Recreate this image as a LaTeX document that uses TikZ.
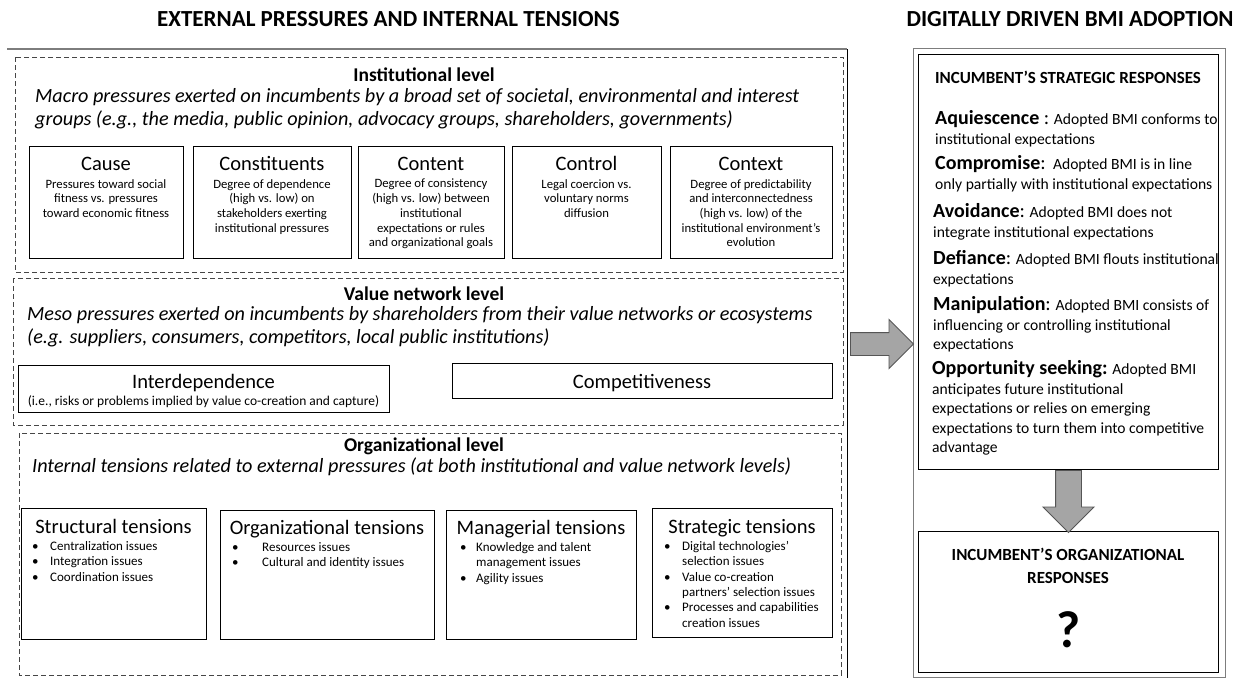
\documentclass[tikz,border=0pt]{standalone}
\usepackage{fontspec}
\setmainfont{Carlito}
\usetikzlibrary{arrows.meta,calc,positioning,shapes.arrows}

\definecolor{framegray}{RGB}{125,125,125}
\definecolor{dashgray}{RGB}{70,70,70}
\definecolor{arrowfill}{RGB}{165,165,165}
\definecolor{arrowedge}{RGB}{85,85,85}

\newcommand{\fsize}[2]{\fontsize{#1}{#2}\selectfont}
\newcommand{\bul}[2][18pt]{\makebox[#1][l]{\textbullet}#2}
\newcommand{\cont}[2][18pt]{\hspace*{#1}#2}
\newcommand{\hw}[1]{{\fsize{20}{19.5}#1}}

\tikzset{
  panelhead/.style={font=\bfseries\fsize{23}{26}, inner sep=0pt},
  levelbox/.style={draw=dashgray, line width=0.8pt, dash pattern=on 5pt off 3pt},
  leveltitle/.style={font=\bfseries\fsize{19.5}{22}, inner sep=0pt, anchor=base},
  levelnote/.style={font=\itshape\fsize{20.2}{23}, align=left, anchor=north west, inner sep=0pt},
  dimbox/.style={draw, line width=0.9pt, anchor=north west, inner sep=0pt},
  dimtitle/.style={font=\fsize{20.5}{22}, inner sep=0pt, anchor=base},
  dimtext/.style={font=\fsize{12.7}{14.7}, align=center, inner sep=0pt, anchor=north},
  issues/.style={font=\fsize{13}{15.4}, align=left, anchor=north west, inner sep=0pt},
  respbox/.style={draw, line width=1pt, anchor=north west, inner sep=0pt},
  resphead/.style={font=\bfseries\fsize{17}{23}, align=center, inner sep=0pt},
  resp/.style={font=\fsize{15.6}{19.5}, align=left, anchor=north west, inner sep=0pt},
  bigarrow/.style={single arrow, fill=arrowfill, draw=arrowedge, line width=0.9pt,
    inner xsep=0pt, single arrow tip angle=90, anchor=tail}
}

\begin{document}
\begin{tikzpicture}[x=1pt,y=-1pt]
  \useasboundingbox (0,0) rectangle (1241,678);
  % panel headings
  \node[panelhead, anchor=west] (lefthead) at (157,19) {EXTERNAL PRESSURES AND INTERNAL TENSIONS};
  \node[panelhead] (righthead) at (1070,19) {DIGITALLY DRIVEN BMI ADOPTION};
  % left frame, only top and right edges show
  \coordinate (lframeA) at (7,49);
  \coordinate (lframeB) at (847,49);
  \coordinate (lframeC) at (847,678);
  \coordinate (lframeE) at (847,344);
  \draw[framegray, line width=1.8pt] (lframeA) -- (lframeB);
  \draw[line width=0.8pt] (lframeB) -- (lframeC);

  % institutional level
  \draw[levelbox] (15,57) rectangle (843,272);
  \node[leveltitle] (instT) at (424,81) {Institutional level};
  \node[levelnote] (instD) at (35,88.5) {Macro pressures exerted on incumbents by a broad set of societal, environmental and interest\\groups (e.g., the media, public opinion, advocacy groups, shareholders, governments)};
  \node[dimbox, minimum width=154pt, minimum height=112pt] (cause) at (29,146) {};
  \node[dimbox, minimum width=158pt, minimum height=112pt] (constit) at (193,146) {};
  \node[dimbox, minimum width=146pt, minimum height=112pt] (content) at (358,146) {};
  \node[dimbox, minimum width=149pt, minimum height=112pt] (control) at (512,146) {};
  \node[dimbox, minimum width=162pt, minimum height=112pt] (context) at (670,146) {};
  \node[dimtitle] (causeT) at (106,170) {Cause};
  \node[dimtitle] (constitT) at (272,170) {Constituents};
  \node[dimtitle] (contentT) at (431,170) {Content};
  \node[dimtitle] (controlT) at (586.5,170) {Control};
  \node[dimtitle] (contextT) at (751,170) {Context};
  \node[dimtext] (causeD) at (106,179) {Pressures toward social\\fitness vs. pressures\\toward economic fitness};
  \node[dimtext] (constitD) at (272,179) {Degree of dependence\\(high vs. low) on\\stakeholders exerting\\institutional pressures};
  \node[dimtext] (contentD) at (431,179) {Degree of consistency\\(high vs. low) between\\institutional\\expectations or rules\\and organizational goals};
  \node[dimtext] (controlD) at (586.5,179) {Legal coercion vs.\\voluntary norms\\diffusion};
  \node[dimtext] (contextD) at (751,179) {Degree of predictability\\and interconnectedness\\(high vs. low) of the\\institutional environment’s\\evolution};

  % value network level
  \draw[levelbox] (13,278) rectangle (843,425);
  \node[leveltitle] (valT) at (424,300) {Value network level};
  \node[levelnote] (valD) at (27,306) {Meso pressures exerted on incumbents by shareholders from their value networks or ecosystems\\(e.g. suppliers, consumers, competitors, local public institutions)};
  \node[dimbox, minimum width=371pt, minimum height=47pt] (interdep) at (18,365) {};
  \node[dimbox, minimum width=380pt, minimum height=35pt] (compet) at (452,363) {};
  \node[dimtitle] (interdepT) at (203.5,388) {Interdependence};
  \node[font=\fsize{13.5}{15}, inner sep=0pt, anchor=base] (interdepD) at (203.5,405) {(i.e., risks or problems implied by value co-creation and capture)};
  \node[dimtitle] (competT) at (642,388) {Competitiveness};

  % organizational level
  \draw[levelbox] (19,433) rectangle (841,675);
  \node[leveltitle] (orgT) at (424,451) {Organizational level};
  \node[levelnote] (orgD) at (32,458) {Internal tensions related to external pressures (at both institutional and value network levels)};
  \node[dimbox, minimum width=185pt, minimum height=131pt] (structten) at (21,508) {};
  \node[dimbox, minimum width=214pt, minimum height=129pt] (orgten) at (220,510) {};
  \node[dimbox, minimum width=190pt, minimum height=129pt] (managten) at (446,510) {};
  \node[dimbox, minimum width=180pt, minimum height=129pt] (stratten) at (652,508) {};
  \node[dimtitle] (structtenT) at (113.5,533) {Structural tensions};
  \node[dimtitle] (orgtenT) at (327,534) {Organizational tensions};
  \node[dimtitle] (mangtenT) at (541,534) {Managerial tensions};
  \node[dimtitle] (strattenT) at (742,533) {Strategic tensions};
  \node[issues] (structtenL) at (32,541) {\bul{Centralization issues}\\\bul{Integration issues}\\\bul{Coordination issues}};
  \node[issues] (orgtenL) at (232,542) {\bul[30pt]{Resources issues}\\\bul[30pt]{Cultural and identity issues}};
  \node[issues] (mangtenL) at (460,542) {\bul[16pt]{Knowledge and talent}\\\cont[16pt]{management issues}\\\bul[16pt]{Agility issues}};
  \node[issues] (strattenL) at (664,541) {\bul{Digital technologies’}\\\cont{selection issues}\\\bul{Value co-creation}\\\cont{partners’ selection issues}\\\bul{Processes and capabilities}\\\cont{creation issues}};

  % right panel
  \node[draw=framegray, line width=0.8pt, minimum width=312pt, minimum height=629pt, anchor=north west, inner sep=0pt] (rframe) at (913,48) {};
  \node[respbox, minimum width=300pt, minimum height=415pt] (stratresp) at (918,54) {};
  \node[respbox, minimum width=300pt, minimum height=141pt] (orgresp) at (918,531) {};
  \node[resphead] (stratrespT) at (1068,77) {INCUMBENT’S STRATEGIC RESPONSES};
  \node[resp] (aqui) at (935,110.5) {\hw{\textbf{Aquiescence} :} Adopted BMI conforms to\\institutional expectations};
  \node[resp] (compro) at (935,155.5) {\hw{\textbf{Compromise}:}\, Adopted BMI is in line\\only partially with institutional expectations};
  \node[resp] (avoid) at (933,203.5) {\hw{\textbf{Avoidance}:} Adopted BMI does not\\integrate institutional expectations};
  \node[resp] (defi) at (933,250.5) {\hw{\textbf{Defiance}:} Adopted BMI flouts institutional\\expectations};
  \node[resp] (manip) at (933,296.5) {\hw{\textbf{Manipulation}:} Adopted BMI consists of\\influencing or controlling institutional\\expectations};
  \node[resp] (oppor) at (932,360.5) {\hw{\textbf{Opportunity seeking:}} Adopted BMI\\anticipates future institutional\\expectations or relies on emerging\\expectations to turn them into competitive\\advantage};
  \node[resphead] (orgrespT) at (1068,566) {INCUMBENT’S ORGANIZATIONAL\\RESPONSES};
  \node[font=\bfseries\fsize{52}{52}, inner sep=0pt] (orgrespQ) at (1069,630) {?};

  % block arrows
  \node[bigarrow, inner ysep=11pt, single arrow head extend=13pt, minimum height=63pt]
    (pushright) at ([xshift=3pt]lframeE) {};
  \node[bigarrow, rotate=-90, inner ysep=12.5pt, single arrow head extend=12.5pt, minimum height=62pt]
    (pushdown) at (stratresp.south) {};
\end{tikzpicture}
\end{document}
